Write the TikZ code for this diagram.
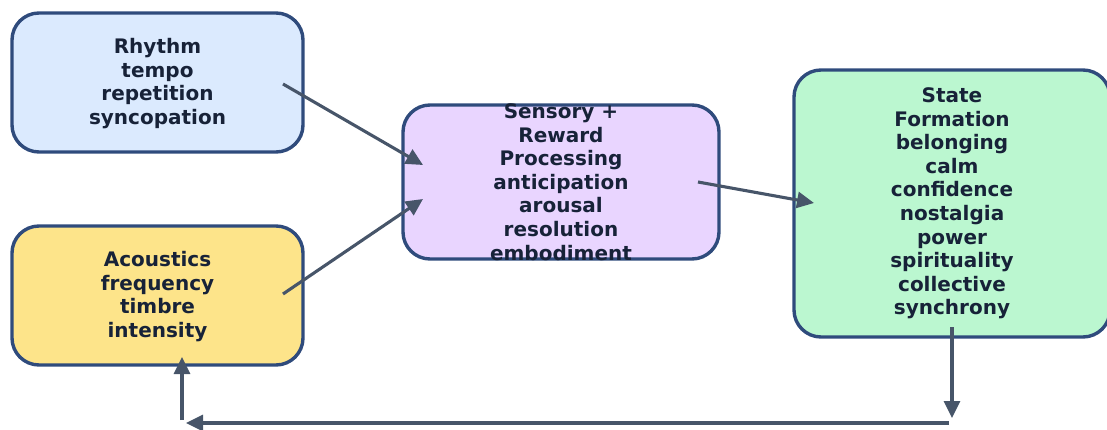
\documentclass[tikz,border=0pt]{standalone}
\usepackage{fontspec}
\setmainfont{DejaVu Sans}
\usetikzlibrary{arrows.meta,calc}

\definecolor{edgeblue}{HTML}{2F4B7C}
\definecolor{inkdark}{HTML}{172238}
\definecolor{flowgray}{HTML}{475569}
\definecolor{fillblue}{HTML}{DBEAFE}
\definecolor{fillyellow}{HTML}{FDE48A}
\definecolor{fillpurple}{HTML}{E9D5FF}
\definecolor{fillgreen}{HTML}{BBF7D0}

\tikzset{
  stagebox/.style={draw=edgeblue, line width=3.4pt, rounded corners=27pt,
    inner sep=0pt, outer sep=0pt},
  stagetext/.style={align=center, text=inkdark, inner sep=0pt,
    font=\fontsize{20}{23.6}\selectfont\bfseries},
  flow/.style={draw=flowgray, line width=3.1pt,
    -{Triangle[length=17pt,width=16pt]}},
}

\begin{document}
\begin{tikzpicture}[x=1pt,y=-1pt]
\useasboundingbox (0,0) rectangle (1107,430);
\clip (0,0) rectangle (1107,430);

% stage boxes
\node[stagebox, fill=fillblue, minimum width=291pt, minimum height=139pt]
  (rhythm) at (157.5,82.5) {};
\node[stagebox, fill=fillyellow, minimum width=291pt, minimum height=139pt]
  (acoustics) at (157.5,295.5) {};
\node[stagebox, fill=fillpurple, minimum width=316pt, minimum height=154pt]
  (sensory) at (561,182) {};
\node[stagebox, fill=fillgreen, minimum width=316pt, minimum height=267pt]
  (state) at (952,203.5) {};

% stage labels
\node[stagetext] (rhythmtxt) at ($(rhythm.center)+(0,1)$) {Rhythm\\tempo\\repetition\\syncopation};
\node[stagetext] (acousticstxt) at ($(acoustics.center)+(0,1)$) {Acoustics\\frequency\\timbre\\intensity};
\node[stagetext] (sensorytxt) at ($(sensory.center)+(0,0)$)
  {Sensory +\\Reward\\Processing\\anticipation\\arousal\\resolution\\embodiment};
\node[stagetext] (statetxt) at ($(state.center)+(0,0)$)
  {State\\Formation\\belonging\\calm\\confidence\\nostalgia\\power\\spirituality\\collective\\synchrony};

% forward flow
\draw[flow] ($(rhythm.center)+(125.5,1.5)$) -- ($(sensory.center)+(-138,-17)$);
\draw[flow] ($(acoustics.center)+(125.5,-1.5)$) -- ($(sensory.center)+(-138,17)$);
\draw[flow] ($(sensory.center)+(137,0)$) -- ($(state.center)+(-138,-0.5)$);

% feedback loop
\coordinate (loopdown) at ($(state.center)+(0,214.5)$);
\coordinate (loopright) at ($(state.center)+(-3,219.5)$);
\coordinate (loopleft) at ($(acoustics.center)+(28.5,127.5)$);
\coordinate (loopup) at ($(acoustics.center)+(24.5,124.5)$);
\draw[flow] ($(state.center)+(0,123.5)$) -- (loopdown);
\draw[flow] (loopright) -- (loopleft);
\draw[flow] (loopup) -- ($(acoustics.center)+(24.5,61.5)$);
\end{tikzpicture}
\end{document}
